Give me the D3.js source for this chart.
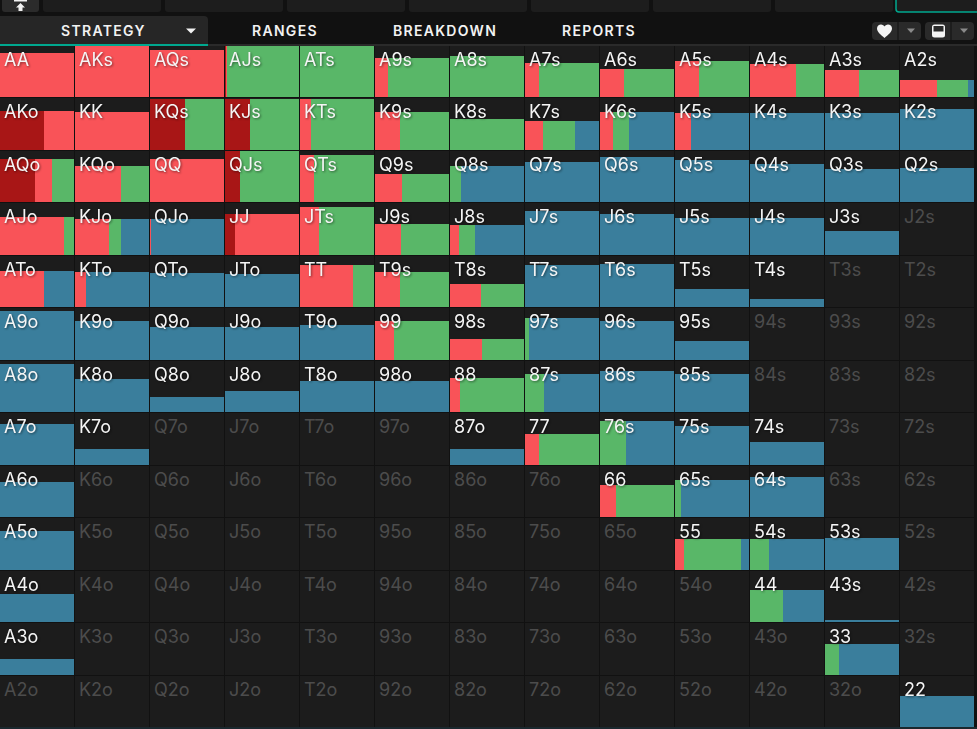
<!DOCTYPE html>
<html>
<head>
<meta charset="utf-8">
<script src="https://cdn.jsdelivr.net/npm/d3@7"></script>
<style>
  html, body { margin: 0; padding: 0; background: #111; overflow: hidden; }
  svg { display: block; }
  text { font-family: Inter, Roboto, sans-serif; }
  .hand { font-size: 18px; fill: #4c4c4c; }
  .hand.active { fill: #f5f5f5; filter: drop-shadow(1px 1px 1px rgba(0,0,0,.45)); }
  .tab { font-size: 14px; font-weight: 600; letter-spacing: 1.3px; fill: #f2f2f2; }
</style>
</head>
<body>
<svg id="chart" width="977" height="729"></svg>
<script>
const ranks = ['A', 'K', 'Q', 'J', 'T', '9', '8', '7', '6', '5', '4', '3', '2']
const tabs = ['STRATEGY', 'RANGES', 'BREAKDOWN', 'REPORTS']

// Bar height of every hand, percent of the cell
const handHeight = [
  [ 86, 100,  92, 100, 100,  76,  80,  66,  55,  70,  64,  53,  33],
  [ 76,  74, 100, 100, 100,  74,  61,  57,  74,  71,  71,  71,  80],
  [ 84,  70,  84, 100,  92,  54,  70,  78,  88,  82,  74,  64,  66],
  [ 73,  69,  69,  80,  94,  61,  59,  86,  80,  71,  71,  46,   0],
  [ 70,  68,  66,  64,  82,  68,  44,  82,  84,  35,  15,   0,   0],
  [ 96,  75,  65,  65,  67,  75,  40,  82,  76,  36,   0,   0,   0],
  [ 94,  64,  29,  41,  61,  61,  66,  74,  80,  74,   0,   0,   0],
  [ 80,  31,   0,   0,   0,   0,  31,  61,  86,  75,  44,   0,   0],
  [ 68,   0,   0,   0,   0,   0,   0,   0,  62,  72,  77,   0,   0],
  [ 75,   0,   0,   0,   0,   0,   0,   0,   0,  61,  61,  63,   0],
  [ 54,   0,   0,   0,   0,   0,   0,   0,   0,   0,  62,   3,   0],
  [ 32,   0,   0,   0,   0,   0,   0,   0,   0,   0,   0,  61,   0],
  [  0,   0,   0,   0,   0,   0,   0,   0,   0,   0,   0,   0,  60]
]

// Width share of each action inside the bar, percent
const darkRedShare = [
  [  0,   0,   0,   1,   0,   0,   0,   0,   0,   0,   0,   0,   0],
  [ 59,   0,  47,  34,   0,   0,   0,   0,   0,   0,   0,   0,   0],
  [ 47,   0,   0,  20,   0,   0,   0,   0,   0,   0,   0,   0,   0],
  [  0,   0,   0,  13,   0,   0,   0,   0,   0,   0,   0,   0,   0],
  [  0,   0,   0,   0,   0,   0,   0,   0,   0,   0,   0,   0,   0],
  [  0,   0,   0,   0,   0,   0,   0,   0,   0,   0,   0,   0,   0],
  [  0,   0,   0,   0,   0,   0,   0,   0,   0,   0,   0,   0,   0],
  [  0,   0,   0,   0,   0,   0,   0,   0,   0,   0,   0,   0,   0],
  [  0,   0,   0,   0,   0,   0,   0,   0,   0,   0,   0,   0,   0],
  [  0,   0,   0,   0,   0,   0,   0,   0,   0,   0,   0,   0,   0],
  [  0,   0,   0,   0,   0,   0,   0,   0,   0,   0,   0,   0,   0],
  [  0,   0,   0,   0,   0,   0,   0,   0,   0,   0,   0,   0,   0],
  [  0,   0,   0,   0,   0,   0,   0,   0,   0,   0,   0,   0,   0]
]
const redShare = [
  [100, 100, 100,   2,   0,  17,   0,  19,  32,  33,  62,  46,  50],
  [ 41, 100,   0,   0,  15,  34,   0,  24,  18,  22,   0,   0,   0],
  [ 23,  62, 100,   0,  19,  36,   0,   0,   0,   0,   0,   0,   0],
  [ 86,  46,   2,  87,  26,  35,  12,   0,   0,   0,   0,   0,   0],
  [ 59,  15,   0,   0,  72,  34,  42,   0,   0,   0,   0,   0,   0],
  [  0,   0,   0,   0,   0,  26,  43,   0,   0,   0,   0,   0,   0],
  [  0,   0,   0,   0,   0,   0,  13,   0,   0,   0,   0,   0,   0],
  [  0,   0,   0,   0,   0,   0,   0,  19,   0,   0,   0,   0,   0],
  [  0,   0,   0,   0,   0,   0,   0,   0,  21,   0,   0,   0,   0],
  [  0,   0,   0,   0,   0,   0,   0,   0,   0,  12,   0,   0,   0],
  [  0,   0,   0,   0,   0,   0,   0,   0,   0,   0,   0,   0,   0],
  [  0,   0,   0,   0,   0,   0,   0,   0,   0,   0,   0,   0,   0],
  [  0,   0,   0,   0,   0,   0,   0,   0,   0,   0,   0,   0,   0]
]
const greenShare = [
  [  0,   0,   0,  97, 100,  83, 100,  81,  68,  67,  38,  54,  42],
  [  0,   0,  53,  66,  85,  66, 100,  43,  21,   0,   0,   0,   0],
  [ 30,  38,   0,  80,  81,  64,  15,   0,   0,   0,   0,   0,   0],
  [ 14,  16,   0,   0,  74,  65,  22,   0,   0,   0,   0,   0,   0],
  [  0,   0,   0,   0,  28,  66,  58,   0,   0,   0,   0,   0,   0],
  [  0,   0,   0,   0,   0,  74,  57,   5,   0,   0,   0,   0,   0],
  [  0,   0,   0,   0,   0,   0,  87,  26,   0,   0,   0,   0,   0],
  [  0,   0,   0,   0,   0,   0,   0,  81,  35,   0,   0,   0,   0],
  [  0,   0,   0,   0,   0,   0,   0,   0,  79,   8,   0,   0,   0],
  [  0,   0,   0,   0,   0,   0,   0,   0,   0,  77,  26,   0,   0],
  [  0,   0,   0,   0,   0,   0,   0,   0,   0,   0,  45,   0,   0],
  [  0,   0,   0,   0,   0,   0,   0,   0,   0,   0,   0,  19,   0],
  [  0,   0,   0,   0,   0,   0,   0,   0,   0,   0,   0,   0,   0]
]
const blueShare = [
  [  0,   0,   0,   0,   0,   0,   0,   0,   0,   0,   0,   0,   8],
  [  0,   0,   0,   0,   0,   0,   0,  33,  61,  78, 100, 100, 100],
  [  0,   0,   0,   0,   0,   0,  85, 100, 100, 100, 100, 100, 100],
  [  0,  38,  98,   0,   0,   0,  66, 100, 100, 100, 100, 100,   0],
  [ 41,  85, 100, 100,   0,   0,   0, 100, 100, 100, 100,   0,   0],
  [100, 100, 100, 100, 100,   0,   0,  95, 100, 100,   0,   0,   0],
  [100, 100, 100, 100, 100, 100,   0,  74, 100, 100,   0,   0,   0],
  [100, 100,   0,   0,   0,   0, 100,   0,  65, 100, 100,   0,   0],
  [100,   0,   0,   0,   0,   0,   0,   0,   0,  92, 100,   0,   0],
  [100,   0,   0,   0,   0,   0,   0,   0,   0,  11,  74, 100,   0],
  [100,   0,   0,   0,   0,   0,   0,   0,   0,   0,  55, 100,   0],
  [100,   0,   0,   0,   0,   0,   0,   0,   0,   0,   0,  81,   0],
  [  0,   0,   0,   0,   0,   0,   0,   0,   0,   0,   0,   0, 100]
]

const WIDTH = 977
const HEIGHT = 729
const ACTION_COLORS = { darkRed: '#a81616', red: '#f95358', green: '#59b768', blue: '#3a7e9c' }

const svg = d3.select('#chart')

function handName(row, col) {
  if (row === col) return ranks[row] + ranks[col]
  if (row < col) return ranks[row] + ranks[col] + 's'
  return ranks[col] + ranks[row] + 'o'
}

const cells = []
ranks.forEach((_, row) => ranks.forEach((_, col) => {
  cells.push({
    row, col,
    name: handName(row, col),
    height: handHeight[row][col],
    darkRed: darkRedShare[row][col],
    red: redShare[row][col],
    green: greenShare[row][col],
    blue: blueShare[row][col]
  })
}))

// columns step 75px and rows 52.5px, both with a 1px gap
const x = d3.scaleBand().domain(d3.range(13)).range([0, 974]).paddingInner(1 / 75).paddingOuter(0)
const y = d3.scaleBand().domain(d3.range(13)).range([46, 727.5]).paddingInner(1 / 52.5).paddingOuter(0)
const shareX = d3.scaleLinear().domain([0, 100]).range([0, x.bandwidth()])
const heightY = d3.scaleLinear().domain([0, 100]).range([0, y.bandwidth()])

const R = Math.round
const rowTop = row => Math.floor(y(row))
const rowBottom = row => Math.floor(y(row) + y.step()) - 1
const barTop = d => R(rowBottom(d.row) - heightY(d.height))

// ---- grid ----
svg.append('rect').attr('width', WIDTH).attr('height', HEIGHT).attr('fill', '#111')
svg.append('rect').attr('y', 727).attr('width', WIDTH).attr('height', 2).attr('fill', '#1b282e')

svg.append('g').selectAll('rect').data(cells).join('rect')
  .attr('x', d => x(d.col))
  .attr('y', d => rowTop(d.row))
  .attr('width', x.bandwidth())
  .attr('height', d => rowBottom(d.row) - rowTop(d.row))
  .attr('fill', '#1c1c1c')

// ---- bars ----
const stack = d3.stack().keys(['darkRed', 'red', 'green', 'blue'])
svg.append('g').selectAll('g').data(stack(cells)).join('g')
  .attr('fill', s => ACTION_COLORS[s.key])
  .selectAll('rect')
  .data(s => s.filter(p => p[1] > p[0] && p.data.height > 0))
  .join('rect')
    .attr('x', p => R(x(p.data.col) + shareX(p[0])))
    .attr('width', p => R(x(p.data.col) + shareX(p[1])) - R(x(p.data.col) + shareX(p[0])))
    .attr('y', p => barTop(p.data))
    .attr('height', p => rowBottom(p.data.row) - barTop(p.data))

// ---- hand labels ----
svg.append('g').selectAll('text').data(cells).join('text')
  .attr('class', d => d.height > 0 ? 'hand active' : 'hand')
  .attr('x', d => x(d.col) + 4)
  .attr('y', d => rowTop(d.row) + 20)
  .text(d => d.name)

// ---- top strip of buttons ----
const topButtons = [[43, 118], [165, 118], [287, 118], [409, 118], [531, 118], [653, 118], [775, 118]]
const strip = svg.append('g')
strip.selectAll('rect').data(topButtons).join('rect')
  .attr('x', d => d[0]).attr('y', -6).attr('width', d => d[1]).attr('height', 18).attr('rx', 3)
  .attr('fill', '#1d1d1d')
strip.append('rect').attr('x', 2).attr('y', -6).attr('width', 37).attr('height', 18).attr('rx', 3).attr('fill', '#2b2b2b')
strip.append('path').attr('d', 'M20.5 3 L25 7.5 H22.5 V11 H18.5 V7.5 H16 Z').attr('fill', '#f0f0f0')
strip.append('rect').attr('x', 14).attr('y', 0).attr('width', 13).attr('height', 1.5).attr('fill', '#f0f0f0')
strip.append('rect').attr('x', 896).attr('y', -6).attr('width', 90).attr('height', 18).attr('rx', 3)
  .attr('fill', '#1d1d1d').attr('stroke', '#00a88f').attr('stroke-width', 1.5)

// ---- tabs ----
svg.append('rect').attr('x', 208).attr('y', 44).attr('width', WIDTH - 208).attr('height', 2).attr('fill', '#2a2a2a')
svg.append('path').attr('d', 'M0 16 H204 Q208 16 208 20 V44 H0 Z').attr('fill', '#262626')
svg.append('rect').attr('y', 44).attr('width', 208).attr('height', 2).attr('fill', '#00a88f')

const tabX = [61, 252, 393, 562]
svg.append('g').selectAll('text').data(tabs).join('text')
  .attr('class', 'tab')
  .attr('x', (d, i) => tabX[i])
  .attr('y', 36)
  .text(d => d)
svg.append('path').attr('d', 'M186 28.5 H196 L191 33.5 Z').attr('fill', '#f2f2f2')

// ---- right hand buttons ----
const right = svg.append('g')
right.selectAll('rect').data([872, 925]).join('rect')
  .attr('x', d => d).attr('y', 22).attr('width', 49).attr('height', 18).attr('rx', 4).attr('fill', '#2a2a2a')
right.selectAll('line').data([898, 951]).join('line')
  .attr('x1', d => d).attr('x2', d => d).attr('y1', 22).attr('y2', 40).attr('stroke', '#111')
right.selectAll('path.arrow').data([907, 960]).join('path')
  .attr('class', 'arrow')
  .attr('d', d => `M${d} 28.5 H${d + 8} L${d + 4} 33 Z`)
  .attr('fill', '#8a8a8a')
right.append('path')
  .attr('d', 'M884.5 38 C881 35 877 32 877 28.5 C877 26 879 24.5 881 24.5 C882.5 24.5 884 25.5 884.5 26.5 C885 25.5 886.5 24.5 888 24.5 C890 24.5 892 26 892 28.5 C892 32 888 35 884.5 38 Z')
  .attr('fill', '#f5f5f5')
right.append('rect').attr('x', 932).attr('y', 24.5).attr('width', 13).attr('height', 13).attr('rx', 2.5).attr('fill', '#f5f5f5')
right.append('rect').attr('x', 933.5).attr('y', 26).attr('width', 10).attr('height', 5.5).attr('fill', '#2a2a2a')
</script>
</body>
</html>
